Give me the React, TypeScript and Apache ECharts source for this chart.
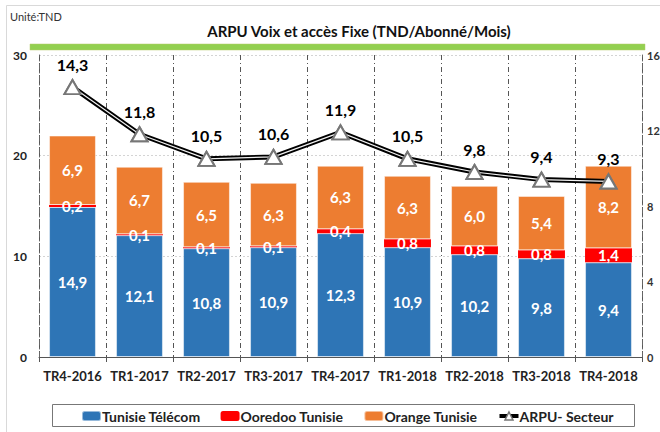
import React, { useEffect, useRef } from "react";
import * as echarts from "echarts";

const categories = ["TR4-2016", "TR1-2017", "TR2-2017", "TR3-2017", "TR4-2017", "TR1-2018", "TR2-2018", "TR3-2018", "TR4-2018"];
const tunisieTelecom = [14.9, 12.1, 10.8, 10.9, 12.3, 10.9, 10.2, 9.8, 9.4];
const ooredoo = [0.2, 0.1, 0.1, 0.1, 0.4, 0.8, 0.8, 0.8, 1.4];
const orange = [6.9, 6.7, 6.5, 6.3, 6.3, 6.3, 6.0, 5.4, 8.2];
const arpu = [14.3, 11.8, 10.5, 10.6, 11.9, 10.5, 9.8, 9.4, 9.3];
const leftTicks = { min: 0, max: 30, interval: 10 };
const rightTicks = { min: 0, max: 16, interval: 4 };

const FONT = "Lato";
const fmt = (v: number) => v.toFixed(1).replace(".", ",");

export default function App() {
  const ref = useRef<HTMLDivElement>(null);
  useEffect(() => {
    if (!ref.current) return;
    const chart = echarts.init(ref.current, undefined, { renderer: "svg" });
    const dashDot = [5, 3, 1, 3];
    const barLabel = {
      show: true,
      position: "inside",
      color: "#fff",
      fontWeight: "bold",
      fontSize: 15,
      fontFamily: FONT,
      formatter: (p: any) => fmt(p.value),
    };
    chart.setOption({
      animation: false,
      backgroundColor: "#fff",
      textStyle: { fontFamily: FONT },
      graphic: [
        { type: "rect", shape: { x: 6.5, y: 5.5, width: 700, height: 500 }, style: { fill: "none", stroke: "#d9d9d9", lineWidth: 1 }, z: 0 },
        { type: "text", left: 10, top: 11, style: { text: "Unité:TND", fill: "#333", font: `11px ${FONT}` } },
        { type: "text", x: 359, y: 31, style: { text: "ARPU Voix et accès Fixe (TND/Abonné/Mois)", fill: "#111", font: `bold 15px ${FONT}`, textAlign: "center", textVerticalAlign: "middle" } },
        { type: "rect", shape: { x: 30, y: 44, width: 615, height: 6 }, style: { fill: "#92D050", stroke: "#B5C96A", lineWidth: 0.5 } },
        { type: "rect", shape: { x: 52.5, y: 404.5, width: 582, height: 22 }, style: { fill: "none", stroke: "#777", lineWidth: 1 } },
      ],
      legend: {
        data: [
          "Tunisie Télécom",
          "Ooredoo Tunisie",
          "Orange Tunisie",
          { name: "ARPU- Secteur", itemStyle: { color: "#fff", borderColor: "#777", borderWidth: 1.5 }, lineStyle: { color: "#000", width: 4 } },
        ],
        left: 76,
        top: 404,
        itemWidth: 19,
        itemHeight: 10,
        itemGap: 20,
        textStyle: { fontFamily: FONT, fontSize: 14, fontWeight: "bold", color: "#222", padding: [0, 0, 0, -4] },
      },
      grid: { left: 39, right: 18, top: 55, bottom: 75, containLabel: false, outerBoundsMode: "none" },
      xAxis: {
        type: "category",
        data: categories,
        axisLine: { show: true, lineStyle: { color: "#555", width: 1 } },
        axisTick: { show: true, interval: 0, length: 5, lineStyle: { color: "#555" } },
        axisLabel: { interval: 0, margin: 12, fontSize: 13, fontWeight: "bold", color: "#222", fontFamily: FONT },
        splitLine: { show: true, interval: 0, lineStyle: { color: "#555", type: dashDot, width: 1 } },
      },
      yAxis: [
        {
          type: "value",
          ...leftTicks,
          axisLine: { show: true, lineStyle: { color: "#666", type: dashDot } },
          axisTick: { show: false },
          axisLabel: { fontSize: 12, fontWeight: "bold", color: "#222", margin: 12, fontFamily: FONT },
          splitLine: { show: true, lineStyle: { color: "#d4d4d4", type: [2, 2] } },
        },
        {
          type: "value",
          ...rightTicks,
          position: "right",
          axisLine: { show: true, lineStyle: { color: "#666", type: dashDot } },
          axisTick: { show: false },
          axisLabel: { fontSize: 11, fontWeight: "bold", color: "#333", margin: 5, fontFamily: FONT },
          splitLine: { show: false },
        },
      ],
      series: [
        {
          name: "Tunisie Télécom",
          type: "bar",
          stack: "s",
          barWidth: "70%",
          data: tunisieTelecom,
          itemStyle: { color: "#2E75B6", borderColor: "rgba(255,255,255,0.5)", borderWidth: 1 },
          label: barLabel,
        },
        {
          name: "Ooredoo Tunisie",
          type: "bar",
          stack: "s",
          data: ooredoo,
          itemStyle: { color: "#FF0000" },
          label: barLabel,
        },
        {
          name: "Orange Tunisie",
          type: "bar",
          stack: "s",
          data: orange,
          itemStyle: { color: "#ED7D31", borderColor: "rgba(255,255,255,0.5)", borderWidth: 1 },
          label: barLabel,
        },
        {
          name: "ARPU- Secteur",
          type: "line",
          yAxisIndex: 1,
          data: arpu,
          symbol: "triangle",
          symbolSize: [16, 14],
          lineStyle: { color: "#000", width: 5 },
          itemStyle: { color: "#fff", borderColor: "#777", borderWidth: 2 },
          label: {
            show: true,
            position: "top",
            distance: 7,
            color: "#000",
            fontSize: 16,
            fontWeight: "bold",
            fontFamily: FONT,
            formatter: (p: any) => fmt(p.value),
          },
          z: 3,
        },
        {
          name: "overlay",
          type: "line",
          yAxisIndex: 1,
          data: arpu,
          symbol: "none",
          silent: true,
          lineStyle: { color: "#f0f0f0", width: 1.2 },
          z: 4,
        },
        {
          name: "markers",
          type: "line",
          yAxisIndex: 1,
          data: arpu,
          symbol: "triangle",
          symbolSize: [16, 14],
          showAllSymbol: true,
          silent: true,
          lineStyle: { opacity: 0, width: 0 },
          itemStyle: { color: "#fff", borderColor: "#777", borderWidth: 2 },
          z: 5,
        },
      ],
    });
    return () => chart.dispose();
  }, []);
  return <div ref={ref} style={{ position: "fixed", left: 0, top: 0, width: 660, height: 432 }} />;
}
